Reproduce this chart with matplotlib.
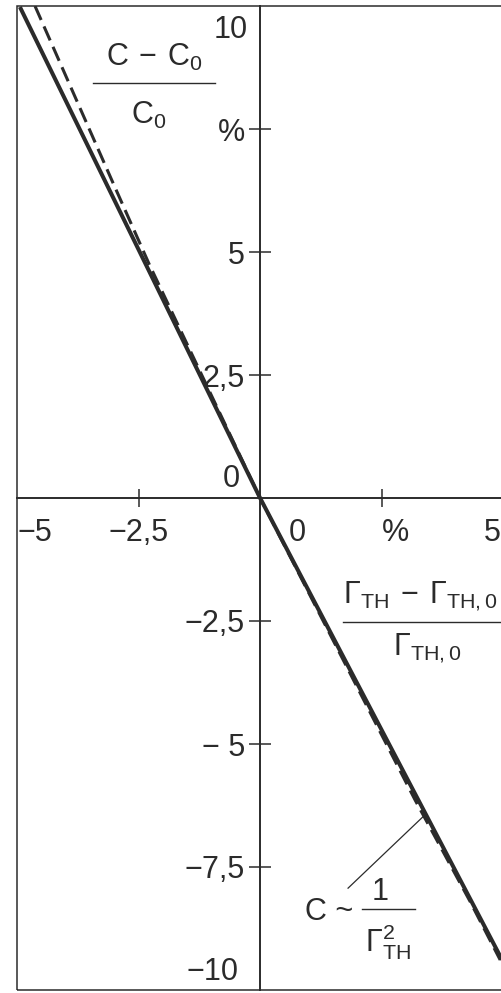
import matplotlib
matplotlib.use('Agg')
import matplotlib.pyplot as plt
from matplotlib.patches import Rectangle

plt.rcParams['font.family'] = ['Liberation Sans', 'DejaVu Sans']

INK = '#2b2b2b'
FS = 22

# relative change of C vs relative change of r_TH (values in %)
# solid line: linear approximation
lin_x = [-4.94, 0.0, 4.98]
lin_y = [9.98, 0.0, -9.39]
# dashed: C ~ 1/r_TH^2
sq_x = [-4.63, -3.05, -2.28, 0.0, 3.19, 4.32, 4.94]
sq_y = [10.0, 6.46, 4.75, 0.0, -6.14, -8.2, -9.39]

xticks = [-2.5, 2.5]
yticks = [-7.5, -5, -2.5, 2.5, 5, 7.5]
ytick_labels = ['\u22127,5', '\u2212 5', '\u22122,5', '2,5', '5', '%']


def main():
    fig = plt.figure(figsize=(5.02, 9.93), dpi=100)
    ax = fig.add_axes([17 / 502, 3 / 993, 491 / 502, 984 / 993])
    ax.set_xlim(-5, 5.1)
    ax.set_ylim(-10, 10)

    # axes cross at the origin
    ax.spines['left'].set_position(('data', 0))
    ax.spines['bottom'].set_position(('data', 0))
    ax.spines['right'].set_visible(False)
    ax.spines['top'].set_visible(False)
    for s in ['left', 'bottom']:
        ax.spines[s].set_linewidth(1.4)
        ax.spines[s].set_color(INK)
    ax.add_patch(Rectangle((0, 0), 1, 1, transform=ax.transAxes, fill=False,
                           lw=1.1, ec=INK, clip_on=False))

    ax.set_xticks(xticks, ['', ''])
    ax.set_yticks(yticks, ytick_labels)
    ax.tick_params(axis='x', direction='inout', length=13, width=1.1, color=INK)
    ax.tick_params(axis='y', direction='inout', length=16, width=1.1, color=INK,
                   pad=3, labelsize=FS, labelcolor=INK)

    # labels that do not sit on a tick
    ax.text(-0.25, 9.51, '10', ha='right', va='center', fontsize=FS, color=INK)
    ax.text(-0.41, 0.39, '0', ha='right', va='center', fontsize=FS, color=INK)
    ax.text(-0.45, -9.63, '\u221210', ha='right', va='center', fontsize=FS, color=INK)
    ax.text(-4.63, -0.71, '\u22125', ha='center', va='center', fontsize=FS, color=INK)
    ax.text(-2.5, -0.71, '\u22122,5', ha='center', va='center', fontsize=FS, color=INK)
    ax.text(0.76, -0.71, '0', ha='center', va='center', fontsize=FS, color=INK)
    ax.text(2.78, -0.71, '%', ha='center', va='center', fontsize=FS, color=INK)
    ax.text(4.77, -0.71, '5', ha='center', va='center', fontsize=FS, color=INK)

    ax.plot(lin_x, lin_y, color=INK, lw=2.9, solid_capstyle='butt')
    ax.plot(sq_x, sq_y, color=INK, lw=2.2, linestyle=(0, (5, 2.3)))

    # y axis title (fraction)
    ax.text(-2.18, 8.96, r'$\mathregular{C\,-\,C_0}$', ha='center', va='center',
            fontsize=FS, color=INK)
    ax.plot([-3.44, -0.93], [8.43, 8.43], color=INK, lw=1.0)
    ax.text(-2.30, 7.78, r'$\mathregular{C_0}$', ha='center', va='center',
            fontsize=FS, color=INK)

    # x axis title (fraction)
    ax.text(3.3, -1.99, r'$\mathregular{\Gamma_{TH}\,-\,\Gamma_{TH,0}}$', ha='center',
            va='center', fontsize=FS, color=INK)
    ax.plot([1.71, 4.98], [-2.52, -2.52], color=INK, lw=1.0)
    ax.text(3.44, -3.05, r'$\mathregular{\Gamma_{TH,0}}$', ha='center', va='center',
            fontsize=FS, color=INK)

    # note on the dashed curve
    ax.text(0.93, -8.41, 'C ~', ha='left', va='center', fontsize=FS, color=INK)
    ax.text(2.47, -8.0, '1', ha='center', va='center', fontsize=FS, color=INK)
    ax.plot([2.10, 3.19], [-8.35, -8.35], color=INK, lw=1.0)
    ax.text(2.63, -9.02, r'$\mathregular{\Gamma_{TH}^{2}}$', ha='center', va='center',
            fontsize=FS, color=INK)
    ax.plot([1.81, 3.35], [-7.93, -6.48], color=INK, lw=0.9)

    fig.savefig('out.png', dpi=100, facecolor='white')


if __name__ == "__main__":
    main()
